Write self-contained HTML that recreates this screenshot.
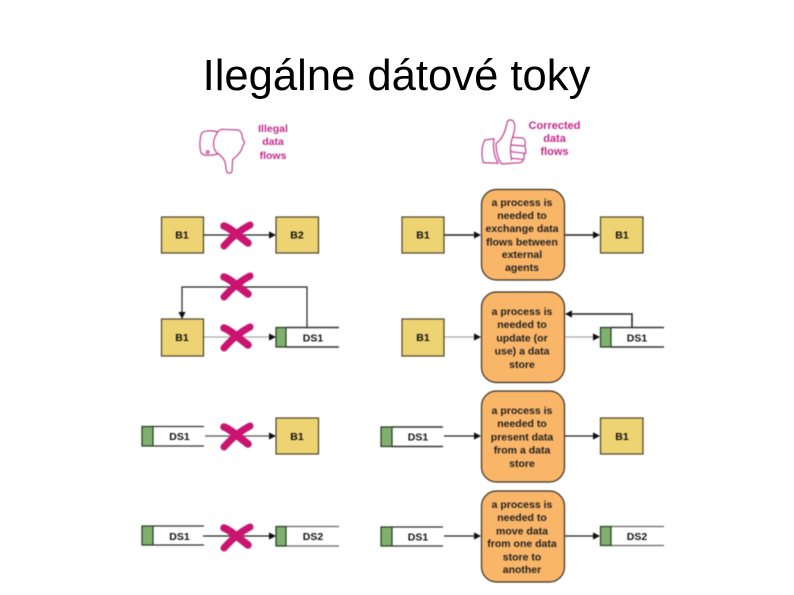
<!DOCTYPE html>
<html>
<head>
<meta charset="utf-8">
<style>
html,body{margin:0;padding:0;background:#fff;width:794px;height:595px;overflow:hidden}
svg{display:block;position:absolute;left:0;top:0}
.t{font-family:"Liberation Sans",sans-serif;font-weight:bold;font-size:10.5px;text-anchor:middle;fill:#222}
.l{font-family:"Liberation Sans",sans-serif;font-weight:bold;font-size:10.5px;text-anchor:middle;fill:#111}
.m{font-family:"Liberation Sans",sans-serif;font-weight:bold;font-size:10.5px;text-anchor:middle;fill:#c4288c}
.b{fill:#edd372;stroke:#4a4428;stroke-width:1.2}
.p{fill:#f9b568;stroke:#3a3020;stroke-width:1.2}
.g{fill:#7fb06e;stroke:#243a20;stroke-width:1.2}
.w{stroke:#333;stroke-width:1.2;fill:none}
.a{stroke:#222;stroke-width:1.2;fill:none}
.ag{stroke:#aaa;stroke-width:1.3;fill:none}
.h{fill:none;stroke:#c2408f;stroke-width:3.6;stroke-linejoin:round;stroke-linecap:round}
</style>
</head>
<body>
<svg width="794" height="595" viewBox="0 0 794 595" xmlns="http://www.w3.org/2000/svg">
<defs>
<g id="x" fill="none" stroke="#cb1470" stroke-linecap="round">
<path d="M-12 -9 C-6 -7 0 -1 12 8" stroke-width="7.500"/>
<path d="M14 -10 C6 -6 -4 2 -12 11" stroke-width="7"/>
</g>
<path id="ah" d="M0 0 L-7 -3.600 L-7 3.600Z" fill="#111"/>
</defs>

<text x="396.500" y="90" style="font-family:'Liberation Sans',sans-serif;font-size:43.600px;text-anchor:middle;fill:#000">Ilegálne dátové toky</text>

<g style="filter:blur(0.4px)">
<!-- thumb down -->
<g transform="translate(130,110) scale(.3333)" class="h">
<path d="M262 66 C245 60 225 62 216 68 C208 85 208 115 214 130 C222 138 245 137 262 132"/>
<path d="M262 68 C248 88 246 115 262 130 C272 135 280 145 285 155 L290 185 C295 192 303 190 306 185 L308 148 C320 140 335 125 338 108 C345 100 345 95 338 88 C337 75 335 65 325 60 L275 58 C268 60 264 64 262 68Z"/>
<circle cx="233" cy="126" r="4"/>
</g>
<text x="273" y="132" class="m">Illegal</text>
<text x="273" y="145" class="m">data</text>
<text x="273" y="159" class="m">flows</text>

<!-- thumb up -->
<g transform="translate(370,110) scale(.3333)" class="h">
<path d="M372 86 L345 90 C335 105 333 135 340 158 L385 160 C372 140 368 110 372 86Z"/>
<path d="M378 100 C395 90 405 70 412 35 C420 25 432 30 434 45 C436 60 430 72 428 82 L460 84 C466 90 468 100 464 108 C470 120 468 130 462 135 C464 145 460 155 450 158 L395 162 C385 150 378 125 378 100Z"/>
<path d="M425 105 L462 108 M425 125 L464 130 M425 145 L458 148 M428 82 C420 100 420 130 425 150"/>
</g>
<text x="554.500" y="129" class="m" style="font-size:11px">Corrected</text>
<text x="554.500" y="142" class="m" style="font-size:11px">data</text>
<text x="554.500" y="155" class="m" style="font-size:11px">flows</text>

<!-- left column connectors -->
<path d="M203 235H270" class="a"/><use href="#ah" x="276" y="235"/>
<path d="M307 327V287H182V312" class="a"/><use href="#ah" transform="translate(182,319) rotate(90)"/>
<path d="M203 337H270" class="ag"/><use href="#ah" x="276" y="337"/>
<path d="M205 436H270" class="a" style="stroke:#555"/><use href="#ah" x="276" y="436"/>
<path d="M203 536H270" class="a"/><use href="#ah" x="276" y="536"/>

<!-- left column shapes -->
<rect x="161.500" y="217" width="42" height="36" class="b"/><text x="182" y="238.500" class="l">B1</text>
<rect x="276" y="217" width="42.500" height="36" class="b"/><text x="297" y="238.500" class="l">B2</text>
<rect x="161.500" y="319" width="42" height="37" class="b"/><text x="182" y="341" class="l">B1</text>
<path d="M286 327.500H339M286 347H339" class="w" style="stroke-width:1.5"/><rect x="276" y="327.500" width="10" height="19.500" class="g"/><text x="313" y="341.500" class="l">DS1</text>
<path d="M153 426.500H204M153 446H204" class="w"/><rect x="142" y="426.500" width="11" height="19.500" class="g"/><text x="179.500" y="440" class="l">DS1</text>
<rect x="276" y="418" width="42.500" height="36" class="b"/><text x="297" y="440" class="l">B1</text>
<path d="M153 526H204M153 545H204" class="w"/><rect x="142" y="526" width="11" height="19" class="g"/><text x="179.500" y="540" class="l">DS1</text>
<path d="M286 526.500H339M286 546H339" class="w" style="stroke:#666"/><rect x="276" y="526.500" width="10" height="19.500" class="g"/><text x="313" y="540" class="l">DS2</text>

<!-- X marks -->
<use href="#x" x="236" y="235"/>
<use href="#x" x="236" y="286"/>
<use href="#x" x="236" y="337"/>
<use href="#x" x="236" y="436"/>
<use href="#x" x="236" y="537"/>

<!-- right column connectors -->
<path d="M444 235H475" class="a" style="stroke-width:1.4"/><use href="#ah" x="481" y="235"/>
<path d="M564 235H594" class="a" style="stroke-width:1.4"/><use href="#ah" x="600" y="235"/>
<path d="M444 337H475" class="ag"/><use href="#ah" x="481" y="337"/>
<path d="M564 337H594" class="ag"/><use href="#ah" x="600" y="337"/>
<path d="M632 327V314H571" class="a" style="stroke-width:1.5"/><use href="#ah" transform="translate(565,314) rotate(180)"/>
<path d="M444 436H475" class="a"/><use href="#ah" x="481" y="436"/>
<path d="M564 436H594" class="a"/><use href="#ah" x="600" y="436"/>
<path d="M444 536H475" class="a"/><use href="#ah" x="481" y="536"/>
<path d="M564 536H594" class="a"/><use href="#ah" x="600" y="536"/>

<!-- right column shapes -->
<rect x="402" y="217" width="42" height="36" class="b"/><text x="423" y="238.500" class="l">B1</text>
<rect x="600.500" y="217" width="42.500" height="36" class="b"/><text x="622" y="238.500" class="l">B1</text>
<rect x="402" y="319" width="42" height="37" class="b"/><text x="423" y="341" class="l">B1</text>
<path d="M611 327.500H664M611 347H664" class="w" style="stroke-width:1.6"/><rect x="600.500" y="327.500" width="10.500" height="19.500" class="g"/><text x="637" y="341.500" class="l">DS1</text>
<path d="M392 427H443M392 446.500H443" class="w" style="stroke-width:1.6"/><rect x="381" y="427" width="11" height="19.500" class="g"/><text x="418" y="440.500" class="l">DS1</text>
<rect x="600.500" y="418" width="42.500" height="36" class="b"/><text x="622" y="440" class="l">B1</text>
<path d="M392 527H443M392 546H443" class="w"/><rect x="381" y="527" width="11" height="19" class="g"/><text x="418" y="540.500" class="l">DS1</text>
<path d="M611 526.500H664M611 545.500H664" class="w" style="stroke:#666"/><rect x="600.500" y="526.500" width="10.500" height="19" class="g"/><text x="637" y="540" class="l">DS2</text>

<!-- processes -->
<rect x="481.500" y="189.500" width="83" height="90.500" rx="15" class="p"/>
<text class="t" x="522" y="206">a process is</text>
<text class="t" x="522" y="219">needed to</text>
<text class="t" x="522" y="232">exchange data</text>
<text class="t" x="522" y="245.500">flows between</text>
<text class="t" x="522" y="258">external</text>
<text class="t" x="522" y="271">agents</text>

<rect x="481.500" y="292" width="83" height="90.500" rx="15" class="p"/>
<text class="t" x="522" y="315">a process is</text>
<text class="t" x="522" y="328">needed to</text>
<text class="t" x="522" y="341.500">update (or</text>
<text class="t" x="522" y="354.500">use) a data</text>
<text class="t" x="522" y="368">store</text>

<rect x="481.500" y="391" width="83" height="91" rx="15" class="p"/>
<text class="t" x="522" y="414">a process is</text>
<text class="t" x="522" y="427">needed to</text>
<text class="t" x="522" y="440.500">present data</text>
<text class="t" x="522" y="453.500">from a data</text>
<text class="t" x="522" y="467">store</text>

<rect x="481.500" y="491" width="83" height="91" rx="15" class="p"/>
<text class="t" x="522" y="508">a process is</text>
<text class="t" x="522" y="521">needed to</text>
<text class="t" x="522" y="534.500">move data</text>
<text class="t" x="522" y="547">from one data</text>
<text class="t" x="522" y="560.500">store to</text>
<text class="t" x="522" y="573">another</text>
</g>
</svg>
</body>
</html>
